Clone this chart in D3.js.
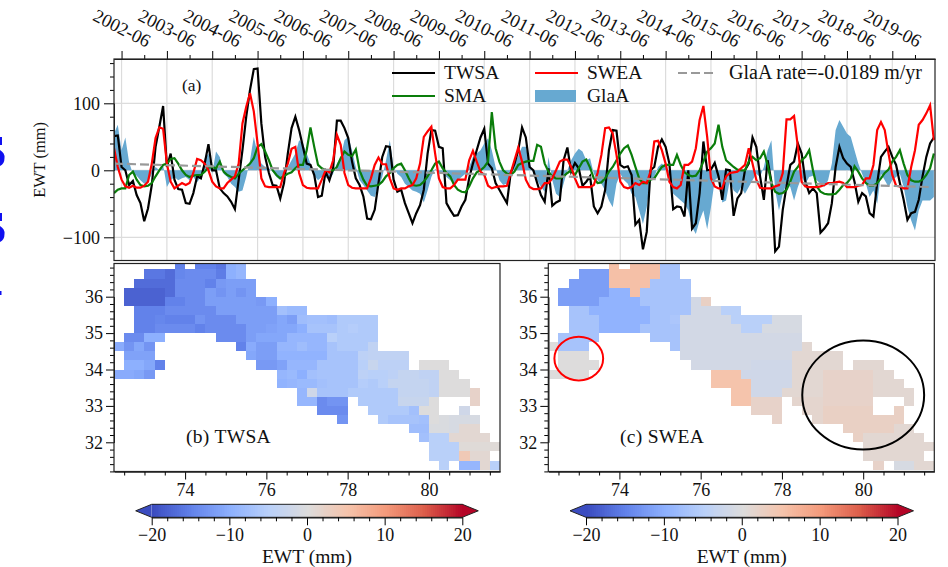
<!DOCTYPE html>
<html>
  <head>
    <title>EWT time series and maps</title>
    <script src="https://d3js.org/d3.v7.min.js"></script>
    <style>
      html, body { margin: 0; padding: 0; background: #fff; overflow: hidden; }
      text { font-family: "Liberation Serif", serif; fill: #111; }
      .domain { stroke: #222; }
    </style>
  </head>
  <body>
    <div id="chart"></div>
    <script>
      // Monthly series, 2002-04 onward, mm
      const twsa = [51,52,5,0,-22,-16,-37,-49,-76,-57,-22,35,65,96,5,25,-14,-28,-29,-49,-50,-34,-9,-12,10,39,0,0,-27,-34,-39,-47,-58,-14,30,80,120,151,152,70,20,-4,-22,-23,-42,-19,25,63,80,60,35,10,8,-7,-40,-38,-2,-15,3,74,74,63,48,13,-12,-22,-39,-72,-73,-59,-19,20,36,35,-14,-32,-29,-49,-64,-79,-64,-52,-29,25,60,59,35,33,-49,-59,-68,-67,-54,-44,-12,10,30,49,62,10,3,-19,-29,-39,-49,-4,10,30,64,49,5,0,-19,-37,-47,3,-53,-48,-45,15,34,-2,11,3,-23,-17,-9,-54,-64,-54,-29,30,60,59,8,4,6,-7,-81,-74,-118,-92,0,5,35,46,35,10,-58,-54,-55,-69,0,-87,-79,-34,43,0,1,11,-9,-44,1,0,-68,-42,-34,0,10,49,35,-9,-44,15,-17,-121,-114,-59,-24,8,13,40,25,-17,-34,-27,-34,-93,-87,-79,-49,5,35,18,10,5,-17,-47,-34,-39,-64,-69,-19,20,28,35,20,8,-19,-44,-74,-64,-62,-44,-9,20,40,49];
      const swea = [33,5,-14,-24,-26,-23,-26,-26,-23,-17,10,48,64,62,10,-17,-27,-23,-19,-22,-19,-4,17,15,10,0,-17,-24,-27,-27,-19,-14,-9,10,70,95,115,88,40,-12,-24,-25,-25,-25,-25,-4,10,32,35,-4,-22,-26,-27,-27,-27,-14,0,-3,15,53,38,-4,-22,-26,-27,-27,-27,-27,-12,8,19,9,9,-12,-27,-29,-27,-27,-24,-22,-12,10,50,58,65,25,-12,-25,-27,-27,-22,-14,-14,-14,15,29,13,-2,-7,-23,-27,-25,-24,-24,-23,-4,15,34,13,-14,-25,-28,-28,-27,-19,-19,-12,0,13,16,16,5,-12,-25,-25,-25,-25,-22,-4,23,63,64,55,23,-17,-25,-27,-25,-19,-22,-17,-19,-2,43,44,30,10,-17,-25,-27,-22,8,8,13,33,75,96,50,-12,-24,-27,-27,-9,-4,-3,-2,3,8,33,10,-14,-26,-27,-27,-27,-24,-22,-4,76,76,81,35,-17,-24,-25,-25,-25,-24,-22,-19,-19,-18,-17,-19,-25,-25,-25,-23,-22,-12,-12,8,60,72,60,25,-7,-23,-24,-27,-27,5,30,68,75,85,97,45];
      const sma = [-34,-29,-27,-27,-7,-2,-14,-22,-24,-23,-19,-9,0,8,10,17,18,10,0,-7,-10,-8,-7,-7,-2,4,5,3,13,-2,-7,-10,-12,-5,0,5,10,18,35,39,28,15,0,-7,-12,-9,-5,-3,3,8,8,30,64,35,8,3,0,0,0,5,18,28,23,21,31,0,-14,-23,-24,-23,-22,-17,-9,-4,3,8,10,0,-12,-22,-23,-22,-17,-9,0,10,13,3,-4,-9,-22,-29,-32,-33,-24,-12,-3,0,5,13,87,33,13,0,-5,-7,-2,8,11,13,14,14,38,35,10,-2,-9,-12,-12,-9,-4,0,-7,3,13,16,4,-12,-19,-18,-12,-2,5,15,25,33,37,23,5,-12,-19,-19,-14,-12,-3,5,8,8,8,23,8,-3,-7,-9,-8,0,13,28,33,40,68,35,15,10,5,1,0,0,13,20,15,18,28,8,-19,-32,-35,-34,-29,-17,-2,5,15,20,30,0,-24,-32,-35,-36,-36,-35,-29,-22,-19,-12,6,-2,-12,-19,-23,-23,-19,-12,-4,1,13,20,30,10,-7,-15,-17,-17,-14,-7,3,25];
      const glaa = [55,68,30,49,12,-5,-8,-15,-20,-18,-5,5,0,8,-25,-15,-10,-15,-12,-10,-15,-10,-18,-10,18,25,-5,28,20,-5,-10,-20,-25,-32,-30,-10,15,50,25,10,5,3,-2,-10,-14,-5,5,15,25,45,40,25,10,-8,-15,-10,-10,-15,-5,10,20,45,50,30,5,-15,-22,-30,-38,-40,-25,-10,15,45,5,-5,-10,-20,-25,-30,-32,-35,-48,-30,-10,2,-3,-5,-10,-15,-20,-15,-10,-5,5,20,25,30,40,48,30,5,-15,-22,-20,-10,10,22,35,35,10,-5,-15,-25,-32,20,-15,-35,-40,-20,0,15,25,32,28,15,18,-5,-15,-20,-30,-45,-55,-20,-5,-15,-20,-35,-40,-60,-80,-55,-15,-10,5,10,5,-10,-35,-40,-45,-50,-60,-85,-95,-75,-60,-88,-55,-15,-10,-48,-45,-15,-30,-35,-25,-35,-25,-15,-5,-10,5,30,45,-30,-60,-35,-20,-25,-45,-25,-10,-20,-10,-8,-15,-20,-25,-15,10,60,75,65,55,50,30,10,-5,-20,-40,-30,-50,-5,-15,-25,-15,-10,-5,-25,-55,-75,-90,-60,-45,-45,-45,-40];
      const glaaTrendEnds = [10, -25];
      const yearLabels = ["2002-06","2003-06","2004-06","2005-06","2006-06","2007-06","2008-06","2009-06","2010-06","2011-06","2012-06","2013-06","2014-06","2015-06","2016-06","2017-06","2018-06","2019-06"];

      // Map cells: [row, first column, values]. Row 0 is the 36.75-37 band, column 0 starts at 72.25E
      const twsaCells = [
        [0,6,[-15]],[0,8,[-15,-15,-16,-10,-9]],
        [1,3,[-16,-16,-17,-14.5,-14,-14,-14,-15.5,-10,-9]],
        [2,2,[-17,-17,-17,-17,-14,-14,-14,-15,-12.5,-12,-12,-12]],
        [3,1,[-18,-18,-18,-18,-17,-14,-14,-14,-12,-13,-12,-13,-12]],
        [4,1,[-18,-18,-18,-18,-15,-15,-14,-14,-12,-12,-12,-12,-12,-12.5,-10]],
        [5,2,[-15,-15,-15,-14,-14,-14,-14,-14,-12,-12,-12,-12,-12,-12,-7.5,-8.5,-8.5]],
        [6,2,[-15,-15,-14.5,-15,-15,-15,-13,-14,-14,-14,-12,-12,-12,-12,-11,-12,-8,-7.5,-7.5,-8,-6,-6,-6,-6]],
        [7,2,[-15,-15,-14,-14,-14,-14,-15,-14,-14,-14,-14,-12,-12,-11.5,-11,-11,-10,-7,-7,-7,-6,-5.5,-6,-6]],
        [8,1,[-14,-14,-10,-10]],[8,10,[-14,-14,-14,-12,-11,-11,-11,-9,-9,-9,-9,-5,-6,-6,-6,-6]],
        [9,0,[-10.5,-13,-11,-13]],[9,12,[-15,-10.5,-12,-12,-9,-9,-8,-9,-9,-7,-6,-6,-6,-4]],
        [10,1,[-11.5,-11.5,-11.5]],[10,13,[-11,-12,-12,-9.5,-9.5,-9.5,-9.5,-9.5,-7,-7,-7,-4.5,-4,-4,-4,-4]],
        [11,1,[-10,-10,-11,-15]],[11,14,[-12.5,-12.5,-11.5,-9,-9,-9,-7,-7,-7,-7,-5,-3,-4.5,-4.5,-4.5]],[11,30,[0,0,0]],
        [12,0,[-10.5,-10.5,-11,-12.5]],[12,16,[-9,-8.5,-10,-7.5,-7,-7,-7,-7,-4.5,-5,-5,-4.5,-3.5,-3.5,-4,-4,0,0]],
        [13,16,[-9.5,-9,-8.5,-8.5,-7.5,-7,-7,-7,-5.5,-6,-5,-3.5,-3.5,-3.5,-3.5,-4,0,0,0]],
        [14,18,[-9,-2,-7,-7,-7,-6,-6,-6,-6,-6,-3.5,-3.5,-3.5,-4,0,0,0,2]],
        [15,18,[-9,-9,-14,-13,-13]],[15,24,[-6,-6,-6,-6,-3,-3,-3,0]],[15,35,[2]],
        [16,20,[-14,-14,-14]],[16,25,[-6,-6,-6,-6,-7.5,0,0]],[16,34,[-2]],
        [17,22,[-13]],[17,26,[-6,-7,-7,-7,-7.5,0,-0.5,-1,-1,-1]],
        [18,29,[-8,-8,-0.5,-0.5,-1,1,1]],
        [19,30,[-7.5,-5,-5,1,1,1,1]],
        [20,31,[-5,-5,-5,0.5,0.5,0.5,0.5]],
        [21,31,[-5,-5,-5,4,1,1]],
        [22,32,[-5]],[22,34,[-9,-9,1,-5]]
      ];
      const sweaCells = [
        [0,6,[5.5]],[0,8,[5.5,5.5,5.5,-7,-7]],
        [1,3,[-12,-12,-12,5.5,5.5,5.5,5.5,5.5,-7,-7]],
        [2,2,[-12,-12,-12,-12,5.5,5.5,5.5,5.5,-7,-7,-7,-7]],
        [3,1,[-12,-12,-12,-12,-12,-9.5,-9.5,5.5,-7,-7,-7,-7,-7]],
        [4,1,[-12,-12,-12,-12,-9.5,-9.5,-9.5,-9.5,-7,-7,-7,-7,-7,-1.5,2.5]],
        [5,2,[-7,-7,-9.5,-9.5,-9.5,-9.5,-9.5,-9.5,-7,-7,-7,-7,-1.5,-1.5,-1.5,-5,-5]],
        [6,2,[-7,-7,-7,-9.5,-9.5,-9.5,-9.5,-9.5,-7,-7,-6.5,-1.5,-1.5,-1.5,-1.5,-1.5,-5,-5,-5,-5,-1,-1,-1]],
        [7,2,[-7,-7,-7,-9.5,-9.5,-9.5,-9.5,-7,-7,-7,-7,-1.5,-1.5,-1.5,-1.5,-1.5,-1.5,-5,-5,-1,-1,-1,-1]],
        [8,1,[-7,-7,-7,-7]],[8,10,[-7,-7,-7,-1.5,-1.5,-1.5,-1.5,-1.5,-1.5,-1.5,-1.5,-1.5,-1.5,-1.5,-1.5]],
        [9,0,[0,-7,-7,-7]],[9,12,[-7,-1.5,-1.5,-1.5,-1.5,-1.5,-1.5,-1.5,-1.5,-1.5,-1.5,-1.5,-1.5,1]],
        [10,1,[0,0,0]],[10,13,[-1.5,-1.5,-1.5,-1.5,-1.5,-1.5,-1.5,-1.5,-1.5,-1.5,-1.5,1,1,1,1,1]],
        [11,1,[0,0,0,0]],[11,14,[-1.5,-1.5,-1.5,-1.5,-1.5,-1.5,-2,-2,-2,-2,1,1,1,1,1]],[11,30,[1,1,1]],
        [12,0,[0,0,0,0]],[12,16,[5,5,5,-2,-2,-2,-2,-2,1,1,1,2,2,2,2,2,1,1]],
        [13,16,[5,5,5,5,-2,-2,-2,-2,1,1,1,2,2,2,2,2,1,1,1]],
        [14,18,[5,5,-2,-2,-2,1,1,1,1,2,2,2,2,2,1,1,1,1]],
        [15,18,[5,5,2,2,2]],[15,24,[1.5,1.5,1.5,2,2,2,2,2]],[15,35,[1]],
        [16,20,[2,2,2]],[16,25,[1.5,1.5,2.5,2.5,2.5,2.5,2.5]],[16,34,[2.5]],
        [17,22,[2]],[17,26,[1.5,2.5,2.5,2.5,2.5,2.5,2.5,2.5,2.5]],
        [18,29,[2.5,2.5,2.5,2.5,2.5,1,1]],
        [19,30,[2.5,1,1,1,1,1,1]],
        [20,31,[1,1,1,1,1,1,1]],
        [21,31,[1,1,1,1,1,1]],
        [22,32,[2]],[22,34,[-1,-1,1,1]]
      ];
      const coolwarmStops = ["#3b4cc0","#6282ea","#8db0fe","#b9d0f9","#dddcdc","#f5c4ac","#f49a7b","#dc5d4a","#b40426"];

      const svg = d3.select("#chart").append("svg").attr("width", 948).attr("height", 567);
      const fmt = (d) => String(d).replace("-", "\u2212");

      // Colour scale shared by both maps and both colourbars
      const color = d3.scaleLinear()
        .domain(d3.range(9).map((i) => -20 + i * 5))
        .range(coolwarmStops)
        .clamp(true);

      // Blue scraps at the left edge of the source picture (top of each is y0)
      svg.append("g").selectAll("path")
        .data([137, 213]).enter().append("path")
        .attr("fill", "#1010f0")
        .attr("d", (y0) => `M0,${y0}h2v8h-2ZM0,${y0 + 13}q5,3 4.5,8q0,6 -4.5,8Z`);
      svg.append("rect").attr("x", 0).attr("y", 291).attr("width", 1.5).attr("height", 4).attr("fill", "#1010f0");

      // ---------- Panel (a) ----------
      const a = { left: 114, right: 935, top: 59, bottom: 260.5 };
      const x = d3.scaleLinear().domain([0, 217.3]).range([a.left, a.right]);
      const y = d3.scaleLinear().domain([0, 100]).range([170.3, 103.3]);
      const tickMonths = yearLabels.map((d, i) => 2 + i * 12);
      const minorMonths = yearLabels.map((d, i) => 8 + i * 12);
      const gA = svg.append("g");

      // grid
      gA.selectAll(".gx").data(tickMonths).enter().append("line")
        .attr("x1", (d) => x(d)).attr("x2", (d) => x(d))
        .attr("y1", a.top).attr("y2", a.bottom)
        .attr("stroke", "#dcdcdc").attr("stroke-width", 1.2);
      gA.selectAll(".gy").data([-100, 0, 100]).enter().append("line")
        .attr("x1", a.left).attr("x2", a.right)
        .attr("y1", (d) => y(d)).attr("y2", (d) => y(d))
        .attr("stroke", "#dcdcdc").attr("stroke-width", 1.2);

      const clip = svg.append("defs").append("clipPath").attr("id", "clip-a");
      clip.append("rect").attr("x", a.left).attr("y", a.top)
        .attr("width", a.right - a.left).attr("height", a.bottom - a.top);
      const plot = gA.append("g").attr("clip-path", "url(#clip-a)");

      plot.append("path").datum(glaa)
        .attr("fill", "#67a9d1")
        .attr("d", d3.area().x((d, i) => x(i)).y0(y(0)).y1((d) => y(d)));

      const line = d3.line().x((d, i) => x(i)).y((d) => y(d));
      plot.append("path").datum(twsa).attr("fill", "none").attr("stroke", "#000").attr("stroke-width", 2.2).attr("d", line);
      plot.append("path").datum(sma).attr("fill", "none").attr("stroke", "#0a7d0a").attr("stroke-width", 2.2).attr("d", line);
      plot.append("path").datum(swea).attr("fill", "none").attr("stroke", "#f00").attr("stroke-width", 2.2).attr("d", line);
      plot.append("line")
        .attr("x1", x(0)).attr("x2", x(twsa.length - 2))
        .attr("y1", y(glaaTrendEnds[0])).attr("y2", y(glaaTrendEnds[1]))
        .attr("stroke", "#999").attr("stroke-width", 2.2).attr("stroke-dasharray", "9,4");

      // axes
      const axTop = gA.append("g").attr("transform", `translate(0,${a.top})`)
        .call(d3.axisTop(x).tickValues(tickMonths).tickSize(8).tickSizeOuter(0).tickFormat((d, i) => yearLabels[i]));
      axTop.selectAll("text")
        .attr("font-size", 18.5).attr("text-anchor", "middle")
        .attr("y", 0).attr("dy", "0.35em")
        .attr("transform", "translate(0,-31) rotate(27)");
      gA.append("g").attr("transform", `translate(0,${a.top})`)
        .call(d3.axisTop(x).tickValues(minorMonths).tickSize(4).tickSizeOuter(0).tickFormat(""));
      gA.append("g").attr("transform", `translate(${a.left},0)`)
        .call(d3.axisLeft(y).tickValues([-100, 0, 100]).tickSize(10).tickSizeOuter(0).tickFormat(fmt))
        .selectAll("text").attr("font-size", 18).attr("dx", "-1");
      gA.append("g").attr("transform", `translate(${a.left},0)`)
        .call(d3.axisLeft(y).tickValues(d3.range(-120, 161, 20).filter((d) => d % 100 !== 0)).tickSize(4).tickSizeOuter(0).tickFormat(""));
      gA.append("rect").attr("x", a.left).attr("y", a.top)
        .attr("width", a.right - a.left).attr("height", a.bottom - a.top)
        .attr("fill", "none").attr("stroke", "#222").attr("stroke-width", 1.2);

      gA.append("text").attr("x", 182).attr("y", 91).attr("font-size", 17.5).text("(a)");
      gA.append("text").attr("transform", "translate(45,160) rotate(-90)")
        .attr("text-anchor", "middle").attr("font-size", 16.4).text("EWT (mm)");

      // legend
      const legendLines = [
        { label: "TWSA", x: 392, yy: 73, stroke: "#000" },
        { label: "SMA", x: 392, yy: 96, stroke: "#0a7d0a" },
        { label: "SWEA", x: 535, yy: 73, stroke: "#f00" }
      ];
      const legend = gA.append("g");
      legend.selectAll(".ll").data(legendLines).enter().append("line")
        .attr("x1", (d) => d.x).attr("x2", (d) => d.x + 43)
        .attr("y1", (d) => d.yy).attr("y2", (d) => d.yy)
        .attr("stroke", (d) => d.stroke).attr("stroke-width", 2.2);
      legend.selectAll(".lt").data(legendLines).enter().append("text")
        .attr("x", (d) => d.x + 52).attr("y", (d) => d.yy + 6)
        .attr("font-size", 19.5).text((d) => d.label);
      legend.append("rect").attr("x", 535).attr("y", 90).attr("width", 41).attr("height", 12).attr("fill", "#67a9d1");
      legend.append("text").attr("x", 587).attr("y", 102).attr("font-size", 19.5).text("GlaA");
      legend.append("line").attr("x1", 678).attr("x2", 715).attr("y1", 73).attr("y2", 73)
        .attr("stroke", "#999").attr("stroke-width", 2.2).attr("stroke-dasharray", "9,4");
      legend.append("text").attr("x", 729).attr("y", 79).attr("font-size", 20).text("GlaA rate=-0.0189 m/yr");

      // ---------- Panels (b) and (c) ----------
      function drawMap(left, cells, title, titleX) {
        const width = 386;
        const top = 263.5, bottom = 471.5;
        const xm = d3.scaleLinear().domain([72.25, 81.75]).range([left, left + width]);
        const ym = d3.scaleLinear().domain([32, 36]).range([442.3, 296.7]);
        const g = svg.append("g");
        const id = "clip-" + title[1];
        svg.select("defs").append("clipPath").attr("id", id).append("rect")
          .attr("x", left).attr("y", top).attr("width", width).attr("height", bottom - top);
        const flat = [];
        cells.forEach(([row, col, vals]) => vals.forEach((v, k) => flat.push({ row, col: col + k, v })));
        g.append("g").attr("clip-path", `url(#${id})`)
          .attr("shape-rendering", "crispEdges")
          .selectAll("rect").data(flat).enter().append("rect")
          .attr("x", (d) => xm(72.25 + d.col * 0.25))
          .attr("y", (d) => ym(37 - d.row * 0.25))
          .attr("width", xm(72.5) - xm(72.25))
          .attr("height", ym(36) - ym(36.25))
          .attr("fill", (d) => color(d.v));

        g.append("g").attr("transform", `translate(0,${bottom})`)
          .call(d3.axisBottom(xm).tickValues([74, 76, 78, 80]).tickSize(8).tickSizeOuter(0).tickFormat(d3.format("d")))
          .selectAll("text").attr("font-size", 18).attr("dy", "0.75em");
        g.append("g").attr("transform", `translate(0,${bottom})`)
          .call(d3.axisBottom(xm).tickValues(d3.range(72.5, 81.6, 0.5).filter((d) => d % 2 !== 0)).tickSize(4).tickSizeOuter(0).tickFormat(""));
        g.append("g").attr("transform", `translate(${left},0)`)
          .call(d3.axisLeft(ym).tickValues([32, 33, 34, 35, 36]).tickSize(8).tickSizeOuter(0).tickFormat(d3.format("d")))
          .selectAll("text").attr("font-size", 18);
        g.append("g").attr("transform", `translate(${left},0)`)
          .call(d3.axisLeft(ym).tickValues(d3.range(31.2, 36.9, 0.2).filter((d) => Math.abs(d - Math.round(d)) > 0.01)).tickSize(4).tickSizeOuter(0).tickFormat(""));
        g.append("rect").attr("x", left).attr("y", top).attr("width", width).attr("height", bottom - top)
          .attr("fill", "none").attr("stroke", "#222").attr("stroke-width", 1.2);
        g.append("text").attr("x", titleX).attr("y", 442.5).attr("font-size", 19.5).style("letter-spacing", "0.3px").text(title);
        return { xm, ym, g };
      }

      const mapB = drawMap(114, twsaCells, "(b) TWSA", 186);
      const mapC = drawMap(548.3, sweaCells, "(c) SWEA", 620);

      // circled regions on (c)
      const circles = [
        { lon: 73.0, lat: 34.3, rLon: 0.6, rLat: 0.6, stroke: "#f00" },
        { lon: 80.0, lat: 33.3, rLon: 1.5, rLat: 1.5, stroke: "#000" }
      ];
      mapC.g.selectAll("ellipse").data(circles).enter().append("ellipse")
        .attr("cx", (d) => mapC.xm(d.lon)).attr("cy", (d) => mapC.ym(d.lat))
        .attr("rx", (d) => mapC.xm(d.lon + d.rLon) - mapC.xm(d.lon))
        .attr("ry", (d) => mapC.ym(d.lat) - mapC.ym(d.lat + d.rLat))
        .attr("fill", "none").attr("stroke", (d) => d.stroke).attr("stroke-width", 2);

      // ---------- Colourbars ----------
      function drawBar(x0, x1) {
        const cb = d3.scaleLinear().domain([-20, 20]).range([x0, x1]);
        const top = 504.3, bottom = 517.3, ext = 16;
        const g = svg.append("g");
        const steps = d3.range(-20, 20, 0.25);
        g.append("g").attr("shape-rendering", "crispEdges")
          .selectAll("rect").data(steps).enter().append("rect")
          .attr("x", (d) => cb(d)).attr("y", top)
          .attr("width", cb(0.25) - cb(0) + 0.5).attr("height", bottom - top)
          .attr("fill", (d) => color(d));
        g.append("path").attr("d", `M${x0},${top}L${x0 - ext},${(top + bottom) / 2}L${x0},${bottom}Z`).attr("fill", color(-20));
        g.append("path").attr("d", `M${x1},${top}L${x1 + ext},${(top + bottom) / 2}L${x1},${bottom}Z`).attr("fill", color(20));
        g.append("path")
          .attr("d", `M${x0},${top}L${x1},${top}L${x1 + ext},${(top + bottom) / 2}L${x1},${bottom}L${x0},${bottom}L${x0 - ext},${(top + bottom) / 2}Z`)
          .attr("fill", "none").attr("stroke", "#222").attr("stroke-width", 1);
        g.append("g").attr("transform", `translate(0,${bottom})`)
          .call(d3.axisBottom(cb).tickValues([-20, -10, 0, 10, 20]).tickSize(8).tickSizeOuter(0).tickFormat(fmt))
          .selectAll("text").attr("font-size", 18).attr("dy", "0.7em");
        g.append("g").attr("transform", `translate(0,${bottom})`)
          .call(d3.axisBottom(cb).tickValues(d3.range(-18, 20, 2).filter((d) => d % 10 !== 0)).tickSize(4).tickSizeOuter(0).tickFormat(""));
        g.selectAll(".domain").attr("stroke", "none");
        g.append("text").attr("x", (x0 + x1) / 2).attr("y", 563).attr("text-anchor", "middle")
          .attr("font-size", 19.5).text("EWT (mm)");
      }
      drawBar(151.7, 462.3);
      drawBar(586, 897.5);
    </script>
  </body>
</html>
